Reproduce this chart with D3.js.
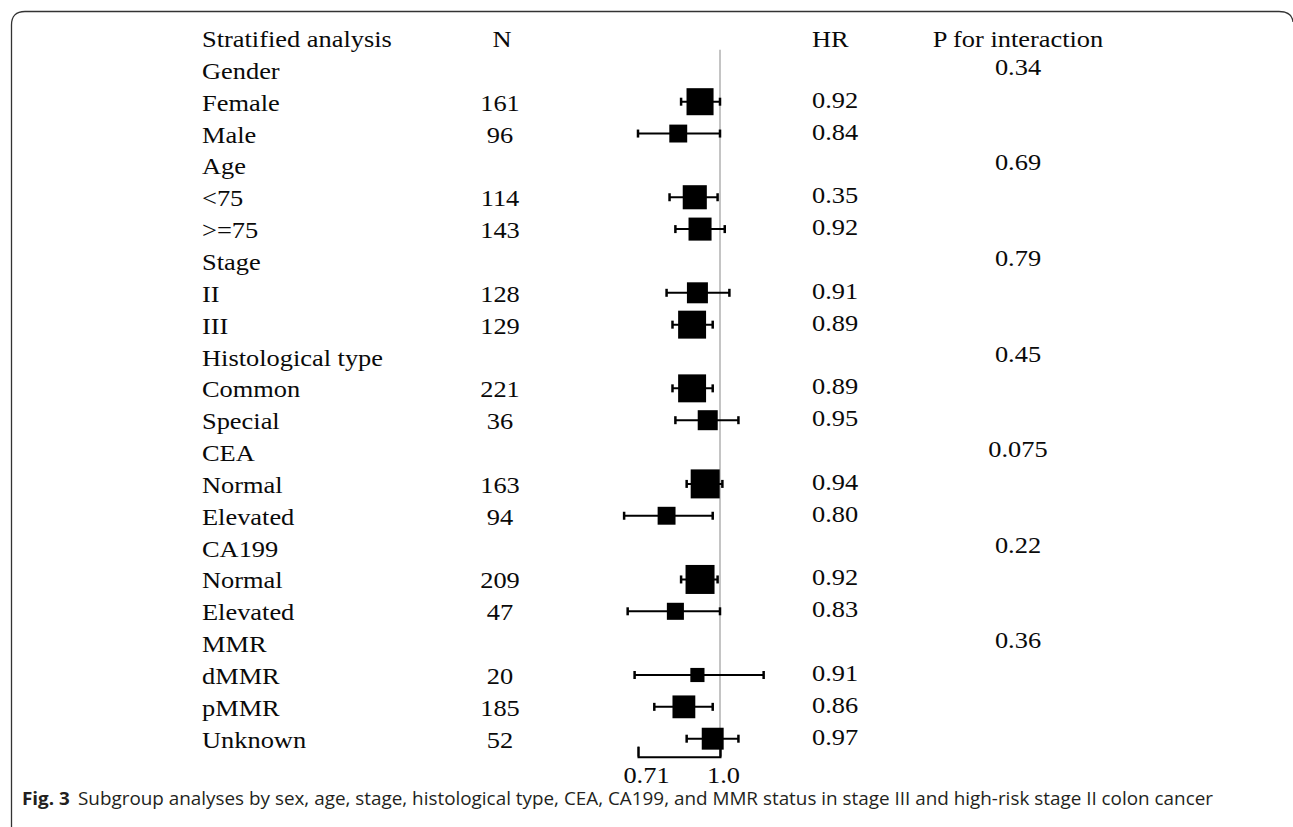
<!DOCTYPE html>
<html>
<head>
<meta charset="utf-8">
<script src="https://cdn.jsdelivr.net/npm/d3@7"></script>
<style>
  html, body { margin: 0; padding: 0; background: #fff; }
  svg { display: block; }
</style>
</head>
<body>
<svg id="chart" width="1293" height="827"></svg>
<script>
// ---------- data ----------
const headers = ["Stratified analysis", "N", "HR", "P for interaction"];
const rowLabels = ["Gender","Female","Male","Age","<75",">=75","Stage","II","III","Histological type","Common","Special","CEA","Normal","Elevated","CA199","Normal","Elevated","MMR","dMMR","pMMR","Unknown"];
const nCounts = [null,161,96,null,114,143,null,128,129,null,221,36,null,163,94,null,209,47,null,20,185,52];
const hrText = [null,"0.92","0.84",null,"0.35","0.92",null,"0.91","0.89",null,"0.89","0.95",null,"0.94","0.80",null,"0.92","0.83",null,"0.91","0.86","0.97"];
const pInteraction = ["0.34",null,null,"0.69",null,null,"0.79",null,null,"0.45",null,null,"0.075",null,null,"0.22",null,null,"0.36",null,null,null];
const hrPoint = [null,0.92,0.84,null,0.90,0.92,null,0.91,0.89,null,0.89,0.95,null,0.94,0.80,null,0.92,0.83,null,0.91,0.86,0.97];
const ciLower = [null,0.85,0.71,null,0.81,0.83,null,0.80,0.82,null,0.82,0.83,null,0.87,0.67,null,0.85,0.68,null,0.70,0.76,0.87];
const ciUpper = [null,1.00,1.00,null,0.99,1.02,null,1.04,0.97,null,0.97,1.08,null,1.01,0.97,null,0.99,1.00,null,1.20,0.97,1.08];
const weights = [null,73,32,null,58,53,null,44,78,null,78,40,null,84,32,null,84,29,null,20,52,48];
const axisTicks = [0.71, 1.0];
const axisTickLabels = ["0.71", "1.0"];
const captionBold = "Fig. 3";
const captionText = "Subgroup analyses by sex, age, stage, histological type, CEA, CA199, and MMR status in stage III and high-risk stage II colon cancer";

// ---------- layout ----------
const W = 1293, H = 827;
const svg = d3.select("#chart");
const FONT = "'Liberation Serif', 'Times New Roman', serif";
const FS = 24;           // font size
const SX = 1.1;          // horizontal stretch of the table text
const INK = "#0a0a0a";

const rowY = d3.scaleLinear().domain([0, rowLabels.length]).range([47, 47 + 31.85 * rowLabels.length]);
const x = d3.scaleLog().domain([0.71, 1.0]).range([638, 720]);
const boxSize = d3.scaleSqrt().domain([0, 84]).range([0, 29]);

const colLabel = 202, colN = 500, colHR = 812, colP = 1018;

// frame
svg.append("path")
  .attr("d", `M11.5,${H} V25 Q11.5,11.5 25,11.5 H1279 Q1292,11.5 1293,22`)
  .attr("fill", "none").attr("stroke", "#333").attr("stroke-width", 1.3);

function addText(g, str, tx, ty, anchor) {
  return g.append("text")
    .attr("transform", `translate(${tx},${ty}) scale(${SX},1)`)
    .attr("text-anchor", anchor)
    .attr("font-family", FONT)
    .attr("font-size", FS)
    .attr("fill", INK)
    .text(str);
}

const table = svg.append("g");
// headers
addText(table, headers[0], colLabel, rowY(0), "start");
addText(table, headers[1], colN + 2, rowY(0), "middle");
addText(table, headers[2], colHR, rowY(0), "start");
addText(table, headers[3], colP, rowY(0), "middle");

rowLabels.forEach((lab, i) => {
  const y = rowY(i + 1);
  addText(table, lab, colLabel, y, "start");
  if (nCounts[i] != null) addText(table, String(nCounts[i]), colN, y, "middle");
  if (hrText[i] != null) addText(table, hrText[i], colHR, y - 3, "start");
  if (pInteraction[i] != null) addText(table, pInteraction[i], colP, y - 4, "middle");
});

// ---------- forest plot ----------
const axisY = rowY(rowLabels.length) + 9;
const plot = svg.append("g");

// reference line at HR = 1
plot.append("line")
  .attr("x1", x(1)).attr("x2", x(1))
  .attr("y1", rowY(1) - 29).attr("y2", axisY)
  .attr("stroke", "#c4c4c4").attr("stroke-width", 2);

const idx = d3.range(rowLabels.length).filter(i => hrPoint[i] != null);
const cy = i => rowY(i + 1) - 9;

// CI lines
plot.selectAll("line.ci").data(idx).join("line").attr("class", "ci")
  .attr("x1", i => x(ciLower[i])).attr("x2", i => x(ciUpper[i]))
  .attr("y1", cy).attr("y2", cy)
  .attr("stroke", "#000").attr("stroke-width", 2);
// caps
["lo", "hi"].forEach(k => {
  plot.selectAll("line.cap" + k).data(idx).join("line").attr("class", "cap" + k)
    .attr("x1", i => x(k === "lo" ? ciLower[i] : ciUpper[i]))
    .attr("x2", i => x(k === "lo" ? ciLower[i] : ciUpper[i]))
    .attr("y1", i => cy(i) - 4).attr("y2", i => cy(i) + 4)
    .attr("stroke", "#000").attr("stroke-width", 2.5);
});
// boxes
plot.selectAll("rect.box").data(idx).join("rect").attr("class", "box")
  .attr("x", i => x(hrPoint[i]) - boxSize(weights[i]) / 2)
  .attr("y", i => cy(i) - boxSize(weights[i]) / 2)
  .attr("width", i => boxSize(weights[i]))
  .attr("height", i => boxSize(weights[i]))
  .attr("fill", "#000");

// axis
const axis = d3.axisBottom(x)
  .tickValues(axisTicks)
  .tickFormat((d, i) => axisTickLabels[i])
  .tickSize(-10)
  .tickPadding(9);
const ax = plot.append("g").attr("transform", `translate(0,${axisY})`).call(axis);
ax.select(".domain").attr("stroke", "#000").attr("stroke-width", 2);
ax.selectAll(".tick line").attr("stroke", "#000").attr("stroke-width", 2);
ax.selectAll(".tick text")
  .attr("font-family", FONT).attr("font-size", FS).attr("fill", INK)
  .attr("transform", (d, i) => `translate(${i === 0 ? 8 : 3},0) scale(${SX},1)`);

// ---------- caption ----------
const cap = svg.append("text")
  .attr("x", 22).attr("y", 805)
  .attr("font-family", "'Open Sans', 'Noto Sans', sans-serif")
  .attr("font-size", 18.5)
  .attr("fill", "#231f20");
cap.append("tspan").attr("font-weight", "bold").text(captionBold);
cap.append("tspan").attr("dx", 8).text(captionText);
cap.attr("textLength", 1191).attr("lengthAdjust", "spacingAndGlyphs");
</script>
</body>
</html>
